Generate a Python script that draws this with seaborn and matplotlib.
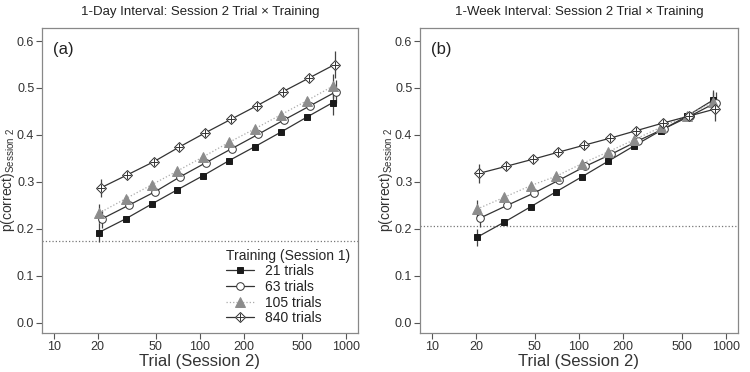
import numpy as np
import pandas as pd
import seaborn as sns
import matplotlib.pyplot as plt
from matplotlib.lines import Line2D
from matplotlib.legend_handler import HandlerTuple

sns.set_style('white')
plt.rcParams['font.family'] = ['Liberation Sans', 'DejaVu Sans']
plt.rcParams['mathtext.fontset'] = 'custom'
plt.rcParams['mathtext.rm'] = 'Liberation Sans'

# session-2 trial bins
trials = [20.3, 31, 47, 70, 105, 158, 238, 359, 541, 814]
training = ['21 trials', '63 trials', '105 trials', '840 trials']

# 1-day interval
day_21 = [0.192, 0.221, 0.253, 0.283, 0.313, 0.345, 0.375, 0.406, 0.438, 0.469]
day_63 = [0.221, 0.250, 0.279, 0.311, 0.341, 0.371, 0.401, 0.432, 0.462, 0.492]
day_105 = [0.233, 0.264, 0.294, 0.323, 0.353, 0.384, 0.413, 0.443, 0.473, 0.504]
day_840 = [0.287, 0.315, 0.343, 0.374, 0.404, 0.433, 0.462, 0.492, 0.521, 0.550]
day_err_21 = [0.020, 0.006, 0.005, 0.005, 0.005, 0.005, 0.005, 0.006, 0.007, 0.026]
day_err_63 = [0.020, 0.006, 0.005, 0.005, 0.005, 0.005, 0.005, 0.006, 0.007, 0.025]
day_err_105 = [0.020, 0.006, 0.005, 0.005, 0.005, 0.005, 0.005, 0.006, 0.007, 0.025]
day_err_840 = [0.020, 0.006, 0.005, 0.005, 0.005, 0.005, 0.005, 0.006, 0.007, 0.028]
day_chance = 0.173

# 1-week interval
week_21 = [0.182, 0.214, 0.247, 0.279, 0.311, 0.344, 0.377, 0.409, 0.440, 0.474]
week_63 = [0.223, 0.250, 0.276, 0.304, 0.333, 0.359, 0.387, 0.413, 0.440, 0.469]
week_105 = [0.242, 0.267, 0.292, 0.312, 0.339, 0.364, 0.390, 0.416, 0.441, 0.470]
week_840 = [0.318, 0.333, 0.348, 0.363, 0.378, 0.393, 0.409, 0.425, 0.440, 0.455]
week_err_21 = [0.018, 0.006, 0.005, 0.005, 0.005, 0.005, 0.005, 0.006, 0.007, 0.022]
week_err_63 = [0.020, 0.006, 0.005, 0.005, 0.005, 0.005, 0.005, 0.006, 0.007, 0.022]
week_err_105 = [0.020, 0.006, 0.005, 0.005, 0.005, 0.005, 0.005, 0.006, 0.007, 0.022]
week_err_840 = [0.020, 0.006, 0.005, 0.005, 0.005, 0.005, 0.005, 0.006, 0.007, 0.025]
week_chance = 0.205

styles = {
    '21 trials': dict(marker='s', ms=5, mfc='#1a1a1a', mec='#1a1a1a', color='#333333', ls='-', dodge=1.0),
    '63 trials': dict(marker='o', ms=5.5, mfc='white', mec='#333333', color='#333333', ls='-', dodge=1.05),
    '105 trials': dict(marker='^', ms=6.5, mfc='#8c8c8c', mec='#8c8c8c', color='#aaaaaa', ls=':', dodge=1.0),
    '840 trials': dict(marker='D', ms=5.5, mfc='white', mec='#333333', color='#333333', ls='-', dodge=1.03),
}

panels = [
    ('1-Day Interval: Session 2 Trial \u00d7 Training', '(a)',
     [day_21, day_63, day_105, day_840], [day_err_21, day_err_63, day_err_105, day_err_840], day_chance),
    ('1-Week Interval: Session 2 Trial \u00d7 Training', '(b)',
     [week_21, week_63, week_105, week_840], [week_err_21, week_err_63, week_err_105, week_err_840], week_chance),
]

fig = plt.figure(figsize=(7.5, 3.72), dpi=100)
ax1 = fig.add_axes([0.056, 0.105, 0.421, 0.820])
ax2 = fig.add_axes([0.560, 0.105, 0.424, 0.820])

for ax, (title, tag, means, errs, chance) in zip([ax1, ax2], panels):
    ax.axhline(chance, color='#777777', lw=0.9, ls=':', zorder=1)
    for name, m, e in zip(training, means, errs):
        st = styles[name]
        x = np.array(trials) * st['dodge']
        df = pd.DataFrame({'trial': x, 'p': m})
        ax.errorbar(x, m, yerr=e, fmt='none', ecolor='#444444', elinewidth=0.9, zorder=2)
        sns.lineplot(data=df, x='trial', y='p', ax=ax, color=st['color'], linestyle=st['ls'],
                     lw=0.9, marker=st['marker'], markersize=st['ms'], markerfacecolor=st['mfc'],
                     markeredgecolor=st['mec'], markeredgewidth=0.7, zorder=3, legend=False)
        if name == '840 trials':
            ax.plot(x, m, ls='none', marker='+', ms=5.5, mew=0.7, color='#333333', zorder=4)
    ax.set_xscale('log')
    ax.set_xlim(8.3, 1205)
    ax.set_ylim(-0.022, 0.628)
    ax.set_xticks([10, 20, 50, 100, 200, 500, 1000])
    ax.set_xticklabels(['10', '20', '50', '100', '200', '500', '1000'])
    ax.xaxis.set_minor_locator(plt.NullLocator())
    ax.set_yticks(np.arange(0, 0.61, 0.1))
    ax.set_yticklabels(['%.1f' % v for v in np.arange(0, 0.61, 0.1)])
    ax.tick_params(axis='both', which='major', direction='out', length=4.5, width=0.8,
                   color='#555555', labelsize=9, labelcolor='#333333', bottom=True, left=True, pad=1)
    for s in ax.spines.values():
        s.set_color('#888888')
        s.set_linewidth(0.9)
    ax.set_xlabel('Trial (Session 2)', fontsize=12, color='#333333', labelpad=1)
    ax.set_ylabel(r'p(correct)$_{\mathrm{Session\ 2}}$', fontsize=10, color='#333333')
    ax.yaxis.set_label_coords(-0.08, 0.5)
    ax.set_title(title, fontsize=9.5, color='#222222', pad=9)
    ax.text(0.035, 0.955, tag, transform=ax.transAxes, fontsize=12, color='#222222', va='top')

handles = []
for name in training:
    st = styles[name]
    h = Line2D([], [], color=st['color'], ls=st['ls'], lw=0.9, marker=st['marker'], ms=st['ms'],
               mfc=st['mfc'], mec=st['mec'], mew=0.7)
    if name == '840 trials':
        h = (h, Line2D([], [], ls='none', marker='+', ms=5.5, mew=0.7, color='#333333'))
    handles.append(h)
leg = ax1.legend(handles, training, title='Training (Session 1)', loc='lower right',
                 bbox_to_anchor=(1.0, 0.0), frameon=False, fontsize=10, title_fontsize=10,
                 handlelength=2.0, handletextpad=0.8, labelspacing=0.12, borderaxespad=0.15,
                 handler_map={tuple: HandlerTuple(ndivide=1)})
leg._legend_box.align = 'left'
for t in leg.get_texts():
    t.set_color('#222222')

fig.savefig('out.png', dpi=100)
